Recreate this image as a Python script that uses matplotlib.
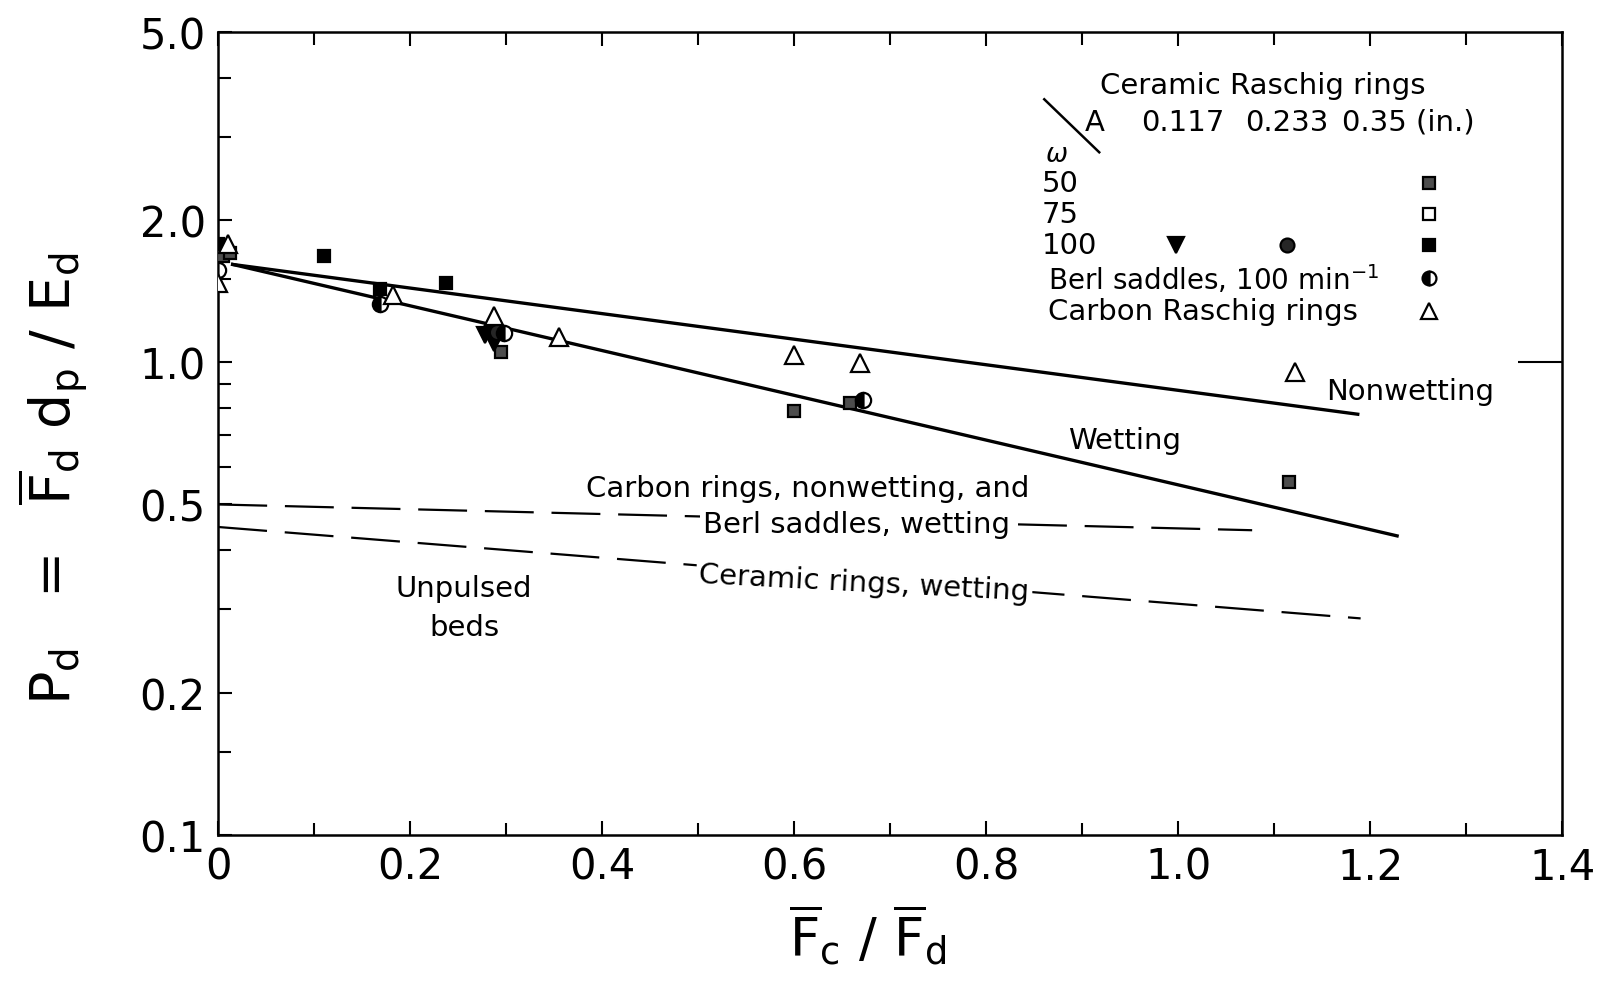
import numpy as np
import matplotlib
matplotlib.use('Agg')
import matplotlib.pyplot as plt
from matplotlib.ticker import FixedLocator, FixedFormatter, NullFormatter

plt.rcParams['font.family'] = 'DejaVu Sans'
plt.rcParams['mathtext.fontset'] = 'dejavusans'

# ── data ───────────────────────────────────────────────────────────────────
# ceramic Raschig rings, A = 0.35 in.
sq50_x = [0.005, 0.012, 0.295, 0.600, 0.658, 1.115]
sq50_y = [1.68, 1.70, 1.05, 0.787, 0.821, 0.558]
sq100_x = [0.0, 0.110, 0.169, 0.237]
sq100_y = [1.78, 1.68, 1.43, 1.47]
# ceramic rings A = 0.117 in. and 0.233 in., omega = 100
tri117_x = [0.278, 0.287]
tri117_y = [1.14, 1.10]
circ233_x = [0.290]
circ233_y = [1.16]
# Berl saddles, 100 min-1
berl_x = [0.0, 0.168, 0.298, 0.672]
berl_y = [1.57, 1.33, 1.15, 0.83]
# carbon Raschig rings
carb_x = [0.0, 0.010, 0.182, 0.287, 0.355, 0.600, 0.668, 1.122]
carb_y = [1.47, 1.78, 1.39, 1.25, 1.13, 1.036, 0.996, 0.953]

# correlation lines
nonwet_x = [0.015, 1.187]
nonwet_y = [1.61, 0.776]
wet_x = [0.015, 1.228]
wet_y = [1.61, 0.429]
unp1_x = [0.0, 1.077]
unp1_y = [0.50, 0.441]
unp2_x = [0.0, 1.19]
unp2_y = [0.448, 0.287]

xmaj = [0, 0.2, 0.4, 0.6, 0.8, 1.0, 1.2, 1.4]
xlab = ['0', '0.2', '0.4', '0.6', '0.8', '1.0', '1.2', '1.4']
ymaj = [0.1, 0.2, 0.5, 1.0, 2.0, 5.0]
ylab = ['0.1', '0.2', '0.5', '1.0', '2.0', '5.0']
ymin = [0.15, 0.3, 0.4, 0.6, 0.7, 0.8, 0.9, 1.5, 3.0, 4.0]

FS = 21

fig = plt.figure(figsize=(15.99, 9.95), dpi=100)
ax = fig.add_axes([0.1365, 0.160, 0.8405, 0.807])
ax.set_yscale('log')
ax.set_xlim(0, 1.4)
ax.set_ylim(0.1, 5.0)

# lines
ax.plot(nonwet_x, nonwet_y, color='black', lw=2.4, zorder=2)
ax.plot(wet_x, wet_y, color='black', lw=2.4, zorder=2)
ax.plot(unp1_x, unp1_y, color='black', lw=1.6, dashes=(22, 8), zorder=2)
ax.plot(unp2_x, unp2_y, color='black', lw=1.6, dashes=(22, 8), zorder=2)

# points
mk = dict(ls='none', mec='black', mew=1.6, zorder=4)
ax.plot(sq50_x, sq50_y, marker='s', ms=9, mfc='0.3', **mk)
ax.plot(sq100_x, sq100_y, marker='s', ms=9, mfc='black', **mk)
ax.plot(tri117_x, tri117_y, marker='v', ms=11, mfc='black', **mk)
ax.plot(circ233_x, circ233_y, marker='o', ms=11, mfc='0.15', **mk)
ax.plot(berl_x, berl_y, marker='o', ms=11, mfc='black', fillstyle='left',
        markerfacecoloralt='white', **mk)
ax.plot(carb_x, carb_y, marker='^', ms=13, mfc='white', **mk)

# labels on the plot
ax.text(1.242, 0.867, 'Nonwetting', fontsize=FS, ha='center', va='center')
ax.text(0.944, 0.683, 'Wetting', fontsize=FS, ha='center', va='center')
ax.text(0.614, 0.541, 'Carbon rings, nonwetting, and', fontsize=FS,
        ha='center', va='center')
box = dict(facecolor='white', edgecolor='none', pad=2)
ax.text(0.665, 0.455, 'Berl saddles, wetting', fontsize=FS, ha='center',
        va='center', bbox=box, zorder=3)
ax.text(0.673, 0.342, 'Ceramic rings, wetting', fontsize=FS, ha='center',
        va='center', rotation=-3, bbox=box, zorder=3)
ax.text(0.256, 0.303, 'Unpulsed\nbeds', fontsize=FS, ha='center',
        va='center', linespacing=1.5)

# legend block (hand-made, like the original)
T = ax.transAxes
ax.text(0.777, 0.934, 'Ceramic Raschig rings', fontsize=FS, ha='center',
        va='center', transform=T)
ax.text(0.652, 0.888, 'A', fontsize=FS, ha='center', va='center', transform=T)
ax.text(0.718, 0.888, '0.117', fontsize=FS, ha='center', va='center', transform=T)
ax.text(0.795, 0.888, '0.233', fontsize=FS, ha='center', va='center', transform=T)
ax.text(0.836, 0.888, '0.35 (in.)', fontsize=FS, ha='left', va='center', transform=T)
ax.plot([0.6146, 0.6555], [0.916, 0.850], color='black', lw=1.8,
        transform=T, clip_on=False)
ax.text(0.624, 0.848, r'$\omega$', fontsize=FS - 2, ha='center',
        va='center', transform=T)
rows = ['50', '75', '100']
row_y = [0.812, 0.773, 0.734]
for lab, yy in zip(rows, row_y):
    ax.text(0.613, yy, lab, fontsize=FS, ha='left', va='center', transform=T)
ax.text(0.6176, 0.693, r'Berl saddles, 100 min$^{-1}$', fontsize=FS - 1,
        ha='left', va='center', transform=T)
ax.text(0.6176, 0.652, 'Carbon Raschig rings', fontsize=FS, ha='left',
        va='center', transform=T)
lk = dict(ls='none', mec='black', mew=1.6, transform=T)
ax.plot(0.901, 0.812, marker='s', ms=9, mfc='0.3', **lk)
ax.plot(0.901, 0.773, marker='s', ms=9, mfc='white', **lk)
ax.plot(0.901, 0.734, marker='s', ms=9, mfc='black', **lk)
ax.plot(0.7125, 0.734, marker='v', ms=11, mfc='black', **lk)
ax.plot(0.795, 0.734, marker='o', ms=10, mfc='0.15', **lk)
ax.plot(0.901, 0.693, marker='o', ms=10, mfc='black', fillstyle='left',
        markerfacecoloralt='white', **lk)
ax.plot(0.901, 0.652, marker='^', ms=11, mfc='white', **lk)

# axes styling
for s in ax.spines.values():
    s.set_linewidth(1.8)
ax.xaxis.set_major_locator(FixedLocator(xmaj))
ax.xaxis.set_major_formatter(FixedFormatter(xlab))
ax.xaxis.set_minor_locator(FixedLocator(np.arange(0.1, 1.4, 0.2)))
ax.yaxis.set_major_locator(FixedLocator(ymaj))
ax.yaxis.set_major_formatter(FixedFormatter(ylab))
ax.yaxis.set_minor_locator(FixedLocator(ymin))
ax.yaxis.set_minor_formatter(NullFormatter())
ax.tick_params(which='both', direction='in', top=True, right=True,
               width=1.5, labelsize=30)
ax.tick_params(which='major', length=10)
ax.tick_params(axis='y', which='major', pad=9)
ax.tick_params(axis='x', which='major', pad=8)
ax.tick_params(which='minor', length=9)

# longer tick at 1.0 on the right edge
ax2 = ax.twinx()
ax2.set_yscale('log')
ax2.set_ylim(0.1, 5.0)
ax2.yaxis.set_major_locator(FixedLocator([1.0]))
ax2.yaxis.set_minor_locator(FixedLocator([]))
ax2.yaxis.set_major_formatter(NullFormatter())
ax2.tick_params(axis='y', direction='in', length=32, width=1.5)
for s in ax2.spines.values():
    s.set_visible(False)

ax.set_xlabel(r'$\overline{\mathrm{F}}_\mathrm{c}\ /\ \overline{\mathrm{F}}_\mathrm{d}$',
              fontsize=38, labelpad=10, x=0.483)
ax.set_ylabel(r'$\mathrm{P_d}\ \ =\ \ \overline{\mathrm{F}}_\mathrm{d}\ \mathrm{d_p}\ /\ \mathrm{E_d}$',
              fontsize=40, labelpad=36, y=0.445)

fig.savefig('out.png', dpi=100, facecolor='white')
